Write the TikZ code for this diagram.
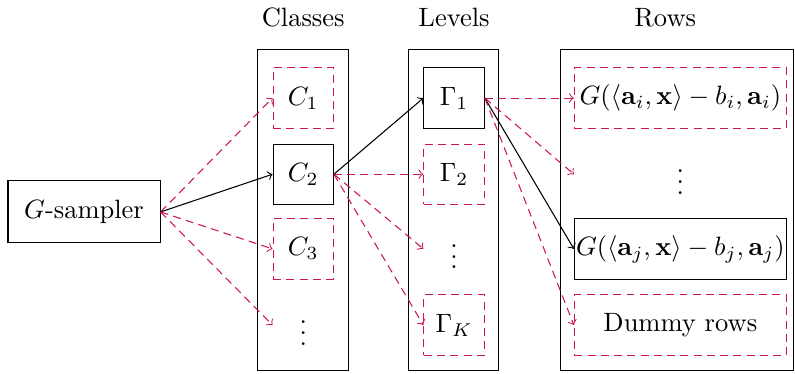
\documentclass[tikz,border=0pt]{standalone}
\usepackage{amsmath}
\usepackage{amsfonts}
\usepackage{amssymb}
\usepackage{tikz}
\definecolor{trycol}{RGB}{205,20,90}

\begin{document}
\begin{tikzpicture}[
    sel/.style={draw, minimum size=0.8cm, inner sep=1pt},
    opt/.style={draw=trycol, dash pattern=on 3pt off 2pt, minimum size=0.8cm, inner sep=1pt},
    blank/.style={minimum size=0.8cm, inner sep=1pt},
    rowsel/.style={draw, minimum width=2.81cm, minimum height=0.8cm, inner sep=0pt},
    rowopt/.style={draw=trycol, dash pattern=on 3pt off 2pt, minimum width=2.81cm, minimum height=0.8cm, inner sep=0pt},
    rowblank/.style={minimum width=2.81cm, minimum height=0.8cm, inner sep=0pt},
    try/.style={->, draw=trycol, dash pattern=on 3pt off 2pt}]
    \useasboundingbox (0,0) rectangle (10.54,-4.95);
    % columns
    \draw (3.42,-0.66) rectangle (4.615,-4.91);
    \draw (5.41,-0.66) rectangle (6.605,-4.91);
    \draw (7.43,-0.66) rectangle (10.52,-4.91);
    \node (hc) at (4.02,-0.23) {Classes};
    \node (hl) at (6.02,-0.23) {Levels};
    \node (hr) at (8.82,-0.23) {Rows};
    % nodes
    \node[draw, minimum width=2.016cm, minimum height=0.822cm] (g) at (1.114,-2.81) {$G$-sampler};
    \node[opt] (c1) at (4.02,-1.30) {$C_1$};
    \node[sel] (c2) at (4.02,-2.31) {$C_2$};
    \node[opt] (c3) at (4.02,-3.30) {$C_3$};
    \node[blank] (cd) at (4.02,-4.31) {$\vdots$};
    \node[sel] (l1) at (6.02,-1.30) {$\Gamma_1$};
    \node[opt] (l2) at (6.02,-2.31) {$\Gamma_2$};
    \node[blank] (ld) at (6.02,-3.30) {$\vdots$};
    \node[opt] (lk) at (6.02,-4.31) {$\Gamma_K$};
    \node[rowopt] (ri) at (9.02,-1.30) {$G(\langle\mathbf{a}_i,\mathbf{x}\rangle-b_i,\mathbf{a}_i)$};
    \node[rowblank] (rd) at (9.02,-2.31) {$\vdots$};
    \node[rowsel] (rj) at (9.02,-3.30) {$G(\langle\mathbf{a}_j,\mathbf{x}\rangle-b_j,\mathbf{a}_j)$};
    \node[rowopt] (rz) at (9.02,-4.31) {Dummy rows};
    % arrows
    \draw[try] (g.east) -- (c1.west);
    \draw[->] (g.east) -- (c2.west);
    \draw[try] (g.east) -- (c3.west);
    \draw[try] (g.east) -- (cd.west);
    \draw[->] (c2.east) -- (l1.west);
    \draw[try] (c2.east) -- (l2.west);
    \draw[try] (c2.east) -- (ld.west);
    \draw[try] (c2.east) -- (lk.west);
    \draw[try] (l1.east) -- (ri.west);
    \draw[try] (l1.east) -- (rd.west);
    \draw[->] (l1.east) -- (rj.west);
    \draw[try] (l1.east) -- (rz.west);
\end{tikzpicture}
\end{document}
